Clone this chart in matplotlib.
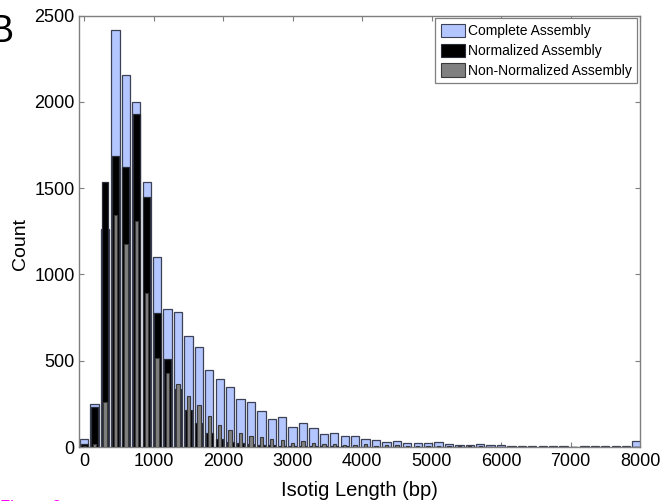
import numpy as np
import matplotlib
matplotlib.use("Agg")
import matplotlib.pyplot as plt
from matplotlib.patches import Patch

plt.rcParams['font.family'] = ['Liberation Sans', 'DejaVu Sans']

# Bin centres (bp), bin width 150
bin_centers = np.arange(0, 8000, 150)
bin_width = 150

complete = [47, 248, 1263, 2420, 2155, 1997, 1537, 1100, 800, 781,
            642, 578, 445, 393, 347, 277, 262, 208, 161, 173,
            117, 138, 109, 75, 80, 65, 65, 46, 40, 28,
            34, 22, 22, 24, 28, 15, 12, 12, 17, 13,
            12, 8, 6, 6, 5, 4, 5, 0, 5, 5,
            4, 4, 3, 35]
normalized = [20, 231, 1534, 1686, 1624, 1931, 1451, 775, 509, 335,
              215, 138, 84, 49, 30, 22, 15, 12, 10, 8,
              6, 5, 4, 4, 3, 3, 2, 2, 2, 1,
              1, 1, 1, 1, 1, 0, 0, 0, 0, 0,
              0, 0, 0, 0, 0, 0, 0, 0, 0, 0,
              0, 0, 0, 0]
non_normalized = [5, 15, 260, 1346, 1178, 1312, 893, 516, 428, 368,
                  295, 243, 182, 130, 98, 82, 65, 59, 47, 42,
                  26, 36, 24, 18, 18, 11, 11, 18, 8, 10,
                  12, 6, 5, 5, 5, 4, 3, 3, 3, 2,
                  2, 2, 1, 1, 1, 1, 1, 0, 1, 1,
                  0, 0, 0, 2]

series_labels = ['Complete Assembly', 'Normalized Assembly', 'Non-Normalized Assembly']
x_ticks = [0, 1000, 2000, 3000, 4000, 5000, 6000, 7000, 8000]
y_ticks = [0, 500, 1000, 1500, 2000, 2500]

c_blue = '#b3c6ff'
c_black = '#000000'
c_gray = '#808080'
edge = '#3c4157'

fig = plt.figure(figsize=(6.63, 5.01), dpi=100)
ax = fig.add_axes([79/663, 1 - 447/501, (640-79)/663, (447-15.7)/501])

ax.bar(bin_centers, complete, width=bin_width*0.8, color=c_blue,
       edgecolor=edge, linewidth=0.9, zorder=2)
ax.bar(bin_centers, normalized, width=bin_width*0.66, color=c_black,
       edgecolor='#2a2d3a', linewidth=0.9, zorder=3)
ax.bar(bin_centers, non_normalized, width=bin_width*0.32, color=c_gray,
       edgecolor='#3a3a3a', linewidth=0.8, zorder=4)

ax.set_xlim(-75, 8000)
ax.set_ylim(0, 2500)
ax.set_xticks(x_ticks)
ax.set_yticks(y_ticks)
ax.tick_params(direction='in', length=3.6, width=0.8, color='#7f7f7f',
               top=True, right=True, labelsize=13, labelcolor='black')
ax.tick_params(axis='x', pad=4)
ax.tick_params(axis='y', pad=3)
for s in ax.spines.values():
    s.set_color('#7f7f7f')
    s.set_linewidth(1.0)

ax.set_xlabel('Isotig Length (bp)', fontsize=14.5, labelpad=8)
ax.set_ylabel('Count', fontsize=14)
ax.yaxis.set_label_coords(-0.089, 0.47)

handles = [Patch(facecolor=c_blue, edgecolor=edge, linewidth=0.8),
           Patch(facecolor=c_black, edgecolor='#2a2d3a', linewidth=0.8),
           Patch(facecolor=c_gray, edgecolor='#3a3a3a', linewidth=0.8)]
leg = ax.legend(handles, series_labels, loc='upper right', fontsize=10,
                fancybox=False, framealpha=1, edgecolor='#7f7f7f',
                handlelength=1.75, handleheight=1.1, handletextpad=0.2,
                labelspacing=0.38, borderpad=0.4, borderaxespad=0.2)
leg.get_frame().set_linewidth(0.9)

fig.text(-11/663, 1 - 42/501, 'B', fontsize=27, va='baseline', ha='left')
fig.text(0.0, 1/501, 'Figure 2', fontsize=12, color='#ff00ff', va='top', ha='left')

fig.savefig('out.png', dpi=100)
